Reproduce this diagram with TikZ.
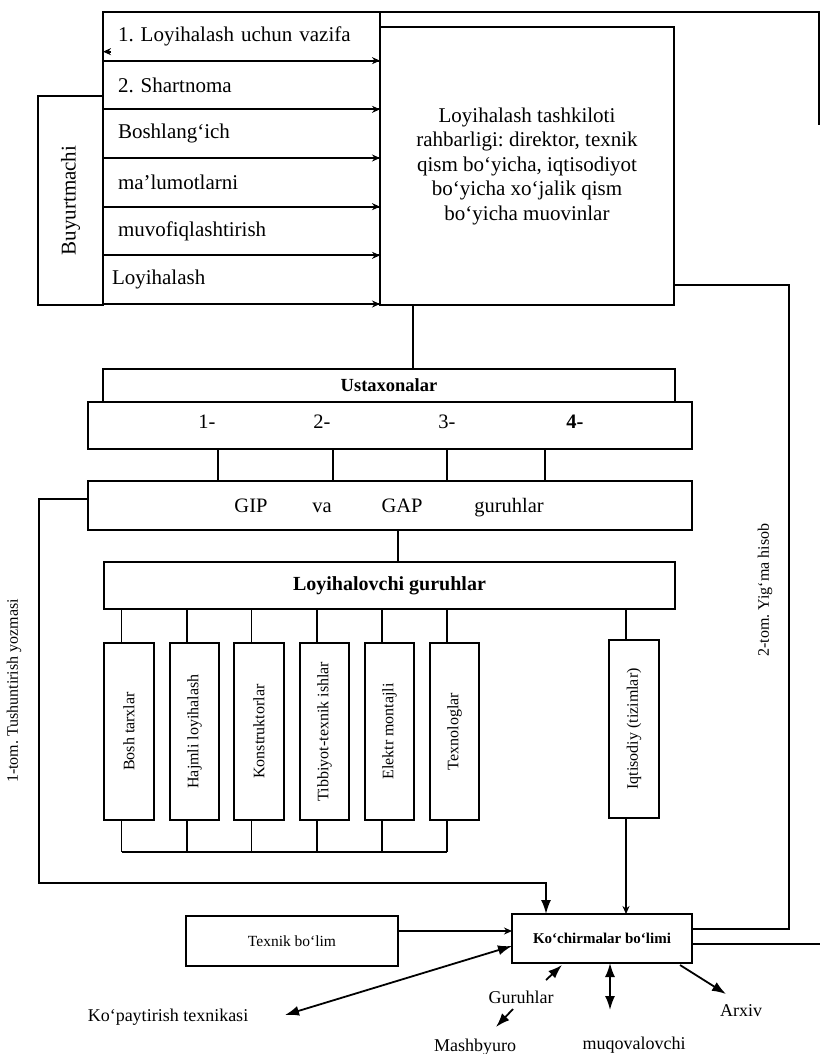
\documentclass[tikz,border=0pt]{standalone}
\usepackage{fontspec}
\setmainfont{Liberation Serif}
\usetikzlibrary{arrows.meta}
\begin{document}
\frenchspacing
\begin{tikzpicture}[x=1pt,y=-1pt,line width=1.8pt,
  box/.style={draw,line width=2pt,inner sep=0pt,outer sep=0pt},
  rowbox/.style={box,minimum width=277pt,minimum height=48.67pt,text width=247pt,inner xsep=15pt,align=left,anchor=north west,font=\fontsize{21}{25}\selectfont},
  vbox/.style={box,minimum width=49.5pt,minimum height=177pt,font=\fontsize{16}{19}\selectfont},
  txt/.style={inner sep=0pt,anchor=base,font=\fontsize{20.5}{24}\selectfont},
  lab/.style={inner sep=0pt,anchor=base,font=\fontsize{18}{21}\selectfont},
  vlab/.style={inner sep=0pt,font=\fontsize{16}{19}\selectfont},
  tipS/.style={-{Stealth[length=8pt,width=7pt]}},
  tipL/.style={-{Latex[length=14pt,width=10pt]}},
  dbl/.style={{Latex[length=14pt,width=10pt]}-{Latex[length=14pt,width=10pt]}}]
\useasboundingbox (0,0) rectangle (820,1054);

% top section
\node[rowbox] (r1) at (103,12) {1. Loyihalash uchun vazifa};
\node[rowbox] (r2) at (103,60.67) {2. Shartnoma};
\node[rowbox] (r3) at (103,109.33) {Boshlang`ich};
\node[rowbox] (r4) at (103,158) {ma'lumotlarni};
\node[rowbox] (r5) at (103,206.67) {muvofiqlashtirish};
\node[rowbox,inner xsep=9pt,text width=259pt] (r6) at (103,255.33) {Loyihalash};
\node[box,minimum width=65pt,minimum height=209pt,font=\fontsize{21}{25}\selectfont] (buy) at (70.5,200.5) {\rotatebox{90}{Buyurtmachi}};
\node[box,minimum width=294pt,minimum height=278pt,align=center,font=\fontsize{21}{24.5}\selectfont] (big) at (527,166)
  {Loyihalash tashkiloti\\rahbarligi: direktor, texnik\\qism bo`yicha, iqtisodiyot\\bo`yicha xo`jalik qism\\bo`yicha muovinlar};

% middle
\node[box,minimum width=572pt,minimum height=33pt,font=\bfseries\fontsize{18.5}{22}\selectfont] (ust) at (389,385.5) {Ustaxonalar};
\node[box,minimum width=604pt,minimum height=47pt] (nb) at (390,425.5) {};
\node[txt] (n1) at (207,428) {1-};
\node[txt] (n2) at (322,428) {2-};
\node[txt] (n3) at (447,428) {3-};
\node[txt,font=\bfseries\fontsize{20.5}{24}\selectfont] (n4) at (575,428) {4-};
\node[box,minimum width=604pt,minimum height=49pt] (gip) at (390,505.5) {};
\node[txt] (g1t) at (251,512) {GIP};
\node[txt] (g2t) at (322,512) {va};
\node[txt] (g3t) at (402,512) {GAP};
\node[txt] (g4t) at (509,512) {guruhlar};
\node[box,minimum width=571pt,minimum height=47pt,font=\bfseries\fontsize{20}{24}\selectfont] (lg) at (389.5,585.5) {Loyihalovchi guruhlar};

\node[vbox] (v1) at (129,731.5) {\rotatebox{90}{Bosh tarxlar}};
\node[vbox] (v2) at (194.5,731.5) {\rotatebox{90}{Hajmli loyihalash}};
\node[vbox] (v3) at (259,731.5) {\rotatebox{90}{Konstruktorlar}};
\node[vbox] (v4) at (324.5,731.5) {\rotatebox{90}{Tibbiyot-texnik ishlar}};
\node[vbox] (v5) at (389.5,731.5) {\rotatebox{90}{Elektr montajli}};
\node[vbox] (v6) at (454.5,731.5) {\rotatebox{90}{Texnologlar}};
\node[vbox,minimum height=178pt] (iq) at (634,729) {\rotatebox{90}{Iqtisodiy (tizimlar)}};

% bottom
\node[box,minimum width=180pt,minimum height=49pt,font=\bfseries\fontsize{15}{18}\selectfont] (ko) at (602,938.5) {Ko`chirmalar bo`limi};
\node[box,minimum width=212pt,minimum height=50pt,font=\fontsize{15.5}{18}\selectfont] (tex) at (292,941) {Texnik bo`lim};
\node[lab] (kop) at (168,1021) {Ko`paytirish texnikasi};
\node[lab] (gur) at (521,1003) {Guruhlar};
\node[lab] (mash) at (475,1051) {Mashbyuro};
\node[lab] (muq) at (634,1049) {muqovalovchi};
\node[lab] (arx) at (741,1016) {Arxiv};
\node[vlab] (t1) at (14,691) {\rotatebox{90}{1-tom. Tushuntirish yozmasi}};
\node[vlab] (t2) at (765,590) {\rotatebox{90}{2-tom. Yig`ma hisob}};

% coordinates
\coordinate (c1a) at (39,499);
\coordinate (c1b) at (39,883);
\coordinate (c2) at (789,285);
\coordinate (cR) at (820,944);
\coordinate (cT1) at (819,12);
\coordinate (cT2) at (819,125);
\coordinate (bbar) at (0,852);
\coordinate (gA) at (546,980);
\coordinate (gB) at (562,965);
\coordinate (mA) at (513,1009);
\coordinate (mB) at (496,1027);
\coordinate (qB) at (610,1010);
\coordinate (aA) at (680,965);
\coordinate (aB) at (726,994);
\coordinate (kA) at (285,1015);

% connectors
\draw (r1.north east) -- (cT1) -- (cT2);
\foreach \r in {r1,r2,r3,r4,r5,r6} \draw[tipS] ([xshift=-10pt]\r.south east) -- (\r.south east);
\draw[tipS] ([xshift=8pt,yshift=9pt]r1.south west) -- ([yshift=9pt]r1.south west);
\draw ([xshift=-114pt]big.south) -- ([xshift=-114pt]big.south |- ust.north);
\draw (c2 -| big.east) -- (c2) |- ([yshift=9.5pt]ko.east);
\draw ([yshift=-5.5pt]ko.east) -- (cR);
\foreach \s in {-172,-57,57,155} \draw ([xshift=\s pt]nb.south) -- ([xshift=\s pt]gip.north);
\draw ([xshift=8pt]gip.south) -- ([xshift=8pt]gip.south |- lg.north);
\draw[tipL] ([yshift=6.5pt]gip.west) -- (c1a) -- (c1b) -| ([xshift=-56pt]ko.north);
\foreach \v in {v1,v2,v3,v4,v5,v6} {
  \draw ([xshift=-7.5pt]\v.north) -- ([xshift=-7.5pt]\v.north |- lg.south);
  \draw ([xshift=-7.5pt]\v.south) -- ([xshift=-7.5pt]\v.south |- bbar);
}
\draw ([xshift=-7.5pt]v1.south |- bbar) -- ([xshift=-7.5pt]v6.south |- bbar);
\draw ([xshift=-8pt]iq.north) -- ([xshift=-8pt]iq.north |- lg.south);
\draw[tipS] ([xshift=-8pt]iq.south) -- ([xshift=-8pt]iq.south |- ko.north);
\draw[tipS] ([yshift=10pt]tex.east) -- ([yshift=10pt]tex.east -| ko.west);
\draw[dbl] (kA) -- ([yshift=-7.5pt]ko.west);
\draw[tipL] (gA) -- (gB);
\draw[tipL] (mA) -- (mB);
\draw[dbl] (ko.south -| qB) -- (qB);
\draw[tipL] (aA) -- (aB);
\end{tikzpicture}
\end{document}
